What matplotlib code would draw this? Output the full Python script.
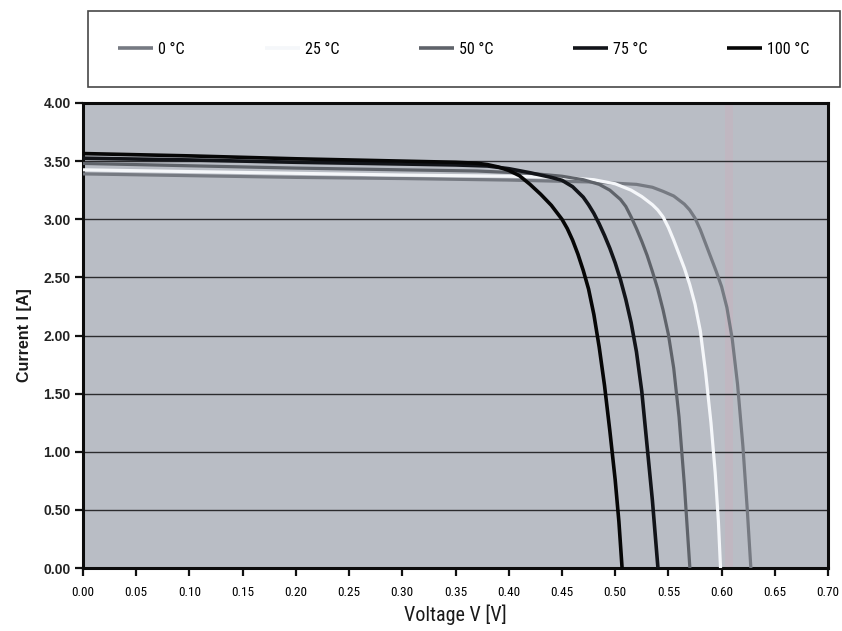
import matplotlib
matplotlib.use("Agg")
import matplotlib.pyplot as plt
from matplotlib import font_manager

# Cell temperatures and measured I-V curves (voltage in V, current in A)
temp_labels = ["0 °C", "25 °C", "50 °C", "75 °C", "100 °C"]

v_0 = [0.0, 0.10, 0.20, 0.30, 0.40, 0.48, 0.52, 0.535, 0.545, 0.555, 0.565,
       0.57, 0.575, 0.58, 0.585, 0.59, 0.595, 0.60, 0.605, 0.61, 0.615, 0.62,
       0.624, 0.6275]
i_0 = [3.39, 3.375, 3.36, 3.35, 3.337, 3.32, 3.30, 3.275, 3.24, 3.20, 3.13,
       3.08, 3.01, 2.91, 2.79, 2.67, 2.55, 2.42, 2.24, 1.97, 1.58, 1.05,
       0.52, 0.0]

v_25 = [0.0, 0.10, 0.20, 0.30, 0.40, 0.45, 0.48, 0.50, 0.515, 0.525, 0.535,
        0.54, 0.545, 0.55, 0.555, 0.56, 0.565, 0.57, 0.575, 0.58, 0.585, 0.59,
        0.594, 0.597, 0.599]
i_25 = [3.425, 3.41, 3.395, 3.38, 3.37, 3.36, 3.34, 3.305, 3.25, 3.195, 3.125,
        3.08, 3.02, 2.93, 2.82, 2.70, 2.58, 2.44, 2.27, 2.04, 1.68, 1.25,
        0.82, 0.40, 0.0]

v_50 = [0.0, 0.10, 0.20, 0.30, 0.37, 0.42, 0.45, 0.47, 0.485, 0.495, 0.505,
        0.51, 0.515, 0.52, 0.525, 0.53, 0.535, 0.54, 0.545, 0.55, 0.555, 0.56,
        0.565, 0.5702]
i_50 = [3.48, 3.46, 3.44, 3.425, 3.415, 3.395, 3.37, 3.34, 3.30, 3.25, 3.17,
        3.11, 3.02, 2.92, 2.81, 2.69, 2.55, 2.40, 2.22, 2.01, 1.72, 1.30,
        0.72, 0.0]

v_75 = [0.0, 0.10, 0.20, 0.30, 0.35, 0.38, 0.40, 0.42, 0.44, 0.45, 0.46, 0.47,
        0.475, 0.48, 0.485, 0.49, 0.495, 0.50, 0.505, 0.51, 0.515, 0.52, 0.525,
        0.53, 0.535, 0.5402]
i_75 = [3.525, 3.51, 3.49, 3.475, 3.467, 3.458, 3.435, 3.40, 3.36, 3.335, 3.28,
        3.19, 3.125, 3.05, 2.96, 2.86, 2.75, 2.625, 2.48, 2.31, 2.11, 1.86, 1.52,
        1.05, 0.58, 0.0]

v_100 = [0.0, 0.10, 0.20, 0.30, 0.35, 0.37, 0.38, 0.39, 0.40, 0.41, 0.42, 0.43,
         0.44, 0.45, 0.455, 0.46, 0.465, 0.47, 0.475, 0.48, 0.485, 0.49, 0.495,
         0.50, 0.5035, 0.5065]
i_100 = [3.565, 3.545, 3.52, 3.50, 3.49, 3.482, 3.47, 3.45, 3.42, 3.375, 3.30,
         3.215, 3.12, 3.0, 2.92, 2.82, 2.70, 2.56, 2.40, 2.18, 1.90, 1.57, 1.18,
         0.76, 0.40, 0.0]

x_ticks = [0.00, 0.05, 0.10, 0.15, 0.20, 0.25, 0.30, 0.35, 0.40, 0.45, 0.50,
           0.55, 0.60, 0.65, 0.70]
y_ticks = [0.00, 0.50, 1.00, 1.50, 2.00, 2.50, 3.00, 3.50, 4.00]

# pick a condensed face for the narrow labels when one is installed
installed = {f.name for f in font_manager.fontManager.ttflist}
narrow = "DejaVu Sans"
for cand in ["Liberation Sans Narrow", "Roboto Condensed", "Open Sans Condensed"]:
    if cand in installed:
        narrow = cand
        break
narrow_font = {"family": narrow, "stretch": "condensed"}
plt.rcParams["font.family"] = ["Liberation Sans", "DejaVu Sans"]

fig = plt.figure(figsize=(8.42, 6.31), dpi=100)
fig.patch.set_facecolor("white")
ax = fig.add_axes([0.0986, 0.0998, 0.8848, 0.737])
ax.set_facecolor("#b9bdc5")

# faint vertical streak across the panel
ax.axvspan(0.603, 0.611, color="#d6a9b8", alpha=0.25, lw=0, zorder=0)

for y in y_ticks[1:]:
    ax.axhline(y, color="#2b2b2e", lw=1.0, zorder=1)

series = [
    (v_0, i_0, "#767a82", 2.3),
    (v_25, i_25, "#f5f7fa", 2.3),
    (v_50, i_50, "#5f636a", 2.3),
    (v_75, i_75, "#121419", 2.6),
    (v_100, i_100, "#060606", 2.6),
]
handles = []
for (v, i, c, lw), lab in zip(series, temp_labels):
    h, = ax.plot(v, i, color=c, lw=lw, solid_capstyle="butt",
                 solid_joinstyle="round", label=lab, zorder=3)
    handles.append(h)

ax.set_xlim(0, 0.70)
ax.set_ylim(0, 4.0)
ax.set_xticks(x_ticks)
ax.set_yticks(y_ticks)
ax.set_xticklabels([f"{t:.2f}" for t in x_ticks], fontsize=9.5, **narrow_font)
ax.set_yticklabels([f"{t:.2f}" for t in y_ticks], fontsize=10, fontweight="bold",
                   color="#222222")
ax.tick_params(axis="both", direction="out", length=6, width=1.6, color="#111111")
ax.tick_params(axis="x", pad=7)
ax.tick_params(axis="y", pad=3)
for s in ax.spines.values():
    s.set_color("#0c0c0c")
    s.set_linewidth(2.2)

ax.set_xlabel("Voltage V [V]", fontsize=14.5, labelpad=4, color="#1a1a1a",
              **narrow_font)
ax.set_ylabel("Current I [A]", fontsize=11.5, fontweight="bold", labelpad=8,
              color="#1a1a1a")

leg = fig.legend(handles, temp_labels, loc="center",
                 bbox_to_anchor=(0.1045, 0.8605, 0.893, 0.1236), mode="expand",
                 ncol=5, frameon=True, fancybox=False, borderaxespad=0,
                 borderpad=1.9, handlelength=2.2, handletextpad=0.3,
                 prop={"family": narrow, "stretch": "condensed", "size": 11.5})
leg.get_frame().set_edgecolor("#1a1a1a")
leg.get_frame().set_linewidth(1.2)
for line in leg.get_lines():
    line.set_linewidth(2.6)

fig.savefig("out.png", dpi=100, facecolor="white")
